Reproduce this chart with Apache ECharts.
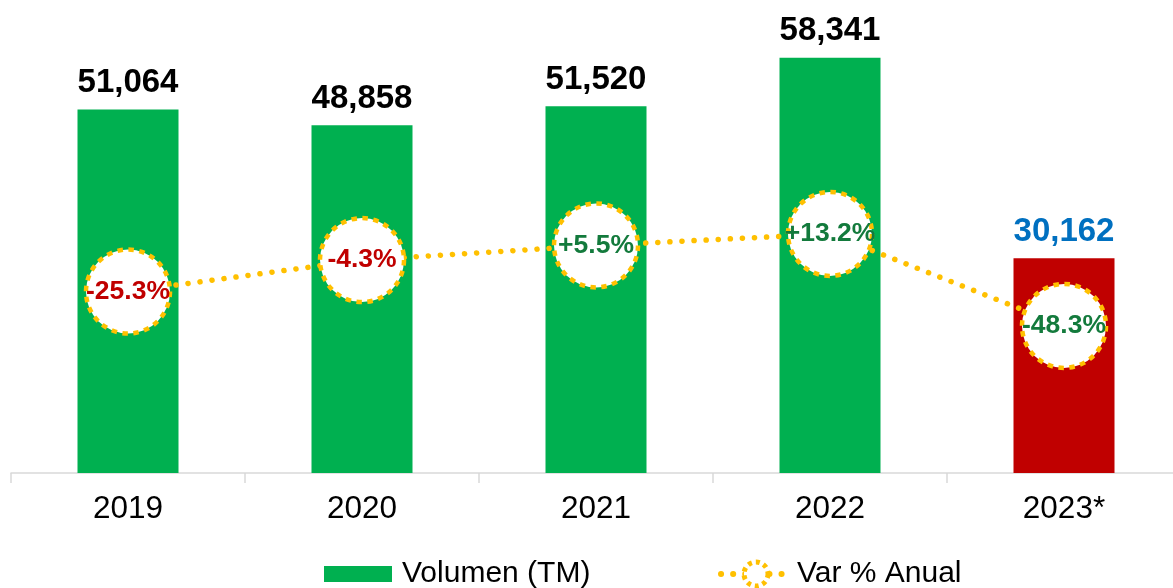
<!DOCTYPE html>
<html>
<head>
<meta charset="utf-8">
<script src="https://cdn.jsdelivr.net/npm/echarts@6/dist/echarts.min.js"></script>
<style>
  html, body { margin: 0; padding: 0; background: #fff; overflow: hidden; }
  /* a bit wider than the window: the last category runs off the right edge */
  #chart { width: 1181px; height: 588px; }
</style>
</head>
<body>
<div id="chart"></div>
<script>
const years = ["2019", "2020", "2021", "2022", "2023*"];
const volumes = [51064, 48858, 51520, 58341, 30162];
const varPct = [-25.3, -4.3, 5.5, 13.2, -48.3];

const FONT = "Arial, 'Liberation Sans', sans-serif";
const GREEN = "#00B050";
const RED = "#C00000";
const GOLD = "#FFC000";
const DARK_GREEN = "#137A3C";
const BLUE = "#0070C0";

// last year is partial, drawn differently
const last = years.length - 1;

const barData = volumes.map((v, i) => ({
  value: v,
  itemStyle: { color: i === last ? RED : GREEN },
  label: { color: i === last ? BLUE : "#000" },
}));

// first two variations shown in red, the rest in green (as in the source)
const lineData = varPct.map((v, i) => ({
  value: v,
  label: { color: i < 2 ? RED : DARK_GREEN },
}));

const fmtPct = (v) => (v > 0 ? "+" : "") + v.toFixed(1) + "%";

const chart = echarts.init(document.getElementById("chart"), null, { renderer: "canvas" });

chart.setOption({
  animation: false,
  textStyle: { fontFamily: FONT },
  grid: { left: 11, right: 0, top: 46, bottom: 115 },
  legend: [
    {
      data: [{ name: "Volumen (TM)", icon: "rect" }],
      left: 324,
      top: 559,
      padding: 0,
      itemWidth: 68,
      itemHeight: 16,
      textStyle: { fontSize: 30, color: "#000", fontFamily: FONT, padding: [0, 0, 0, 5] },
    },
    {
      data: ["Var % Anual"],
      left: 718,
      top: 559,
      padding: 0,
      itemWidth: 70,
      itemHeight: 30,
      itemStyle: { color: "#fff", borderColor: GOLD, borderWidth: 5, borderType: [4, 4] },
      lineStyle: { color: GOLD, width: 6, type: [0.1, 12], cap: "round" },
      textStyle: { fontSize: 30, color: "#000", fontFamily: FONT, padding: [0, 0, 0, 1] },
    },
  ],
  xAxis: {
    type: "category",
    data: years,
    axisLine: { lineStyle: { color: "#D9D9D9", width: 1.5 } },
    axisTick: { show: true, length: 10, lineStyle: { color: "#D9D9D9", width: 1.5 } },
    axisLabel: { color: "#000", fontSize: 31.5, margin: 20, fontFamily: FONT },
  },
  yAxis: [
    { type: "value", min: 0, max: 60000, show: false, splitLine: { show: false } },
    { type: "value", min: -146.6, max: 138.8, show: false, splitLine: { show: false } },
  ],
  series: [
    {
      name: "Volumen (TM)",
      type: "bar",
      data: barData,
      barWidth: 101,
      itemStyle: { color: GREEN },
      label: {
        show: true,
        position: "top",
        distance: 10,
        fontSize: 33,
        fontWeight: "bold",
        fontFamily: FONT,
        formatter: (p) => p.value.toLocaleString("en-US"),
      },
    },
    {
      name: "Var % Anual",
      type: "line",
      yAxisIndex: 1,
      data: lineData,
      z: 5,
      symbol: "circle",
      symbolSize: 84,
      lineStyle: { color: GOLD, width: 5.5, type: [0.1, 12], cap: "round" },
      itemStyle: {
        color: "#fff",
        borderColor: GOLD,
        borderWidth: 4.5,
        borderType: [5.5, 5.5],
      },
      label: {
        show: true,
        position: "inside",
        fontSize: 26.5,
        fontWeight: "bold",
        fontFamily: FONT,
        formatter: (p) => fmtPct(p.value),
      },
    },
  ],
});
</script>
</body>
</html>
